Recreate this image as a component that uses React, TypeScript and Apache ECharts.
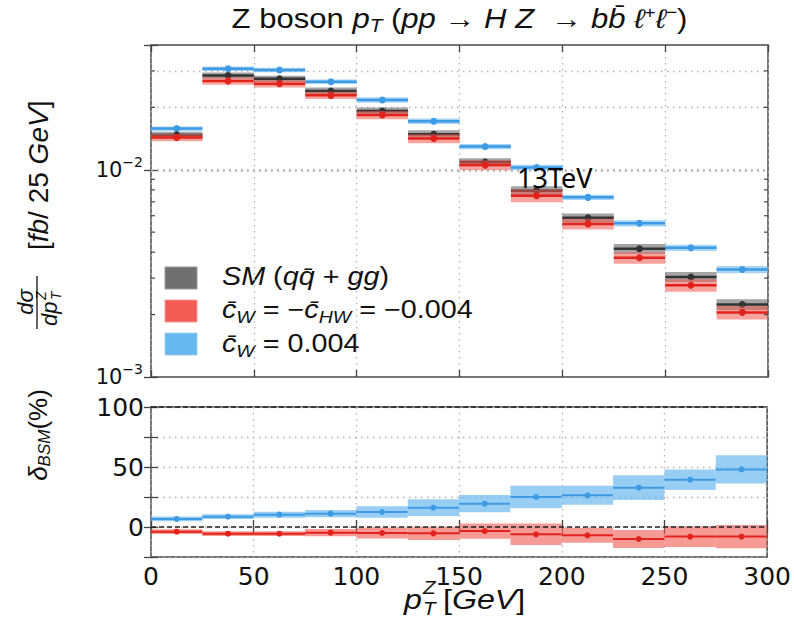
import { useEffect, useRef } from "react";
import * as echarts from "echarts";

// ---- data ----
const binEdges = [0, 25, 50, 75, 100, 125, 150, 175, 200, 225, 250, 275, 300];
// differential cross sections [fb / 25 GeV]
const smXsec = [0.01473, 0.0285, 0.0275, 0.024, 0.01921, 0.01484, 0.01089, 0.00793, 0.00586, 0.00416, 0.00304, 0.00224];
const redXsec = [0.0143, 0.0268, 0.026, 0.02286, 0.01838, 0.01414, 0.01053, 0.0075, 0.00548, 0.00376, 0.00277, 0.00205];
const blueXsec = [0.0158, 0.0307, 0.0303, 0.02658, 0.02171, 0.01714, 0.01294, 0.01026, 0.00736, 0.00552, 0.0042, 0.0033];
// relative uncertainty bands [%]
const smXsecErr = [3.5, 3.5, 3.5, 4, 4, 4.5, 4.5, 5, 5, 5.5, 5.5, 6];
const redXsecErr = [4, 4, 4, 4, 4.5, 5, 5.5, 7, 6, 6.5, 7, 7.5];
const blueXsecErr = [2.5, 2.5, 2.5, 2.5, 3, 3, 3, 3, 3, 3.5, 3.5, 4];
// deviation from SM [%]
const blueDelta = [6.7, 8.6, 10.3, 11.1, 12.5, 16.1, 19.4, 25, 26.4, 32.8, 39.4, 48];
const blueDeltaErr = [2, 2, 2.5, 3, 4.7, 7, 7.2, 9.3, 7.9, 10.4, 8.6, 11.8];
const redDelta = [-3.9, -5.6, -5.6, -4.7, -5, -5.3, -3.4, -6.1, -6.9, -10, -8, -8];
const redDeltaErr = [2, 2, 2, 3, 4.6, 5.6, 6.4, 9, 6.25, 7.6, 8.6, 9.7];
// log axis minor grid values
const logMinorValues = [0.002, 0.003, 0.004, 0.005, 0.006, 0.007, 0.008, 0.009, 0.02, 0.03];
const logMajorValues = [0.01];

const FONT = "Liberation Sans";
const TICKFONT = "DejaVu Sans";
const SX = 1.15;

function relBins(vals: number[], errPct: number[]) {
  return vals.map((v, i) => [binEdges[i], binEdges[i + 1], v, v * (1 - errPct[i] / 100), v * (1 + errPct[i] / 100)]);
}
function absBins(vals: number[], err: number[]) {
  return vals.map((v, i) => [binEdges[i], binEdges[i + 1], v, v - err[i], v + err[i]]);
}

function binRenderer(lineColor: string, bandColor: string, r: number, lw: number) {
  return (_params: any, api: any) => {
    const x0 = api.value(0), x1 = api.value(1), y = api.value(2), lo = api.value(3), hi = api.value(4);
    const a = api.coord([x0, hi]);
    const b = api.coord([x1, lo]);
    const c = api.coord([(x0 + x1) / 2, y]);
    return {
      type: "group",
      children: [
        { type: "rect", shape: { x: a[0], y: a[1], width: b[0] - a[0], height: b[1] - a[1] }, style: { fill: bandColor } },
        { type: "line", shape: { x1: a[0], y1: c[1], x2: b[0], y2: c[1] }, style: { stroke: lineColor, lineWidth: lw } },
        { type: "circle", shape: { cx: c[0], cy: c[1], r }, style: { fill: lineColor } },
      ],
    };
  };
}

const dotted = { type: [1.5, 4.5] as any, color: "#b0b0b0", width: 1.3 };

const richBase = {
  r: { fontFamily: FONT, fontSize: 27, fill: "#111", lineHeight: 32 },
  i: { fontFamily: FONT, fontSize: 27, fill: "#111", fontStyle: "italic", lineHeight: 32 },
  sub: { fontFamily: FONT, fontSize: 18, fill: "#111", fontStyle: "italic", lineHeight: 8, verticalAlign: "bottom" },
  sup: { fontFamily: FONT, fontSize: 17, fill: "#111", lineHeight: 8, verticalAlign: "top" },
};
const richLegend = {
  r: { fontFamily: FONT, fontSize: 25, fill: "#111", lineHeight: 30 },
  i: { fontFamily: FONT, fontSize: 25, fill: "#111", fontStyle: "italic", lineHeight: 30 },
  sub: { fontFamily: FONT, fontSize: 17, fill: "#111", fontStyle: "italic", lineHeight: 8, verticalAlign: "bottom" },
};

export default function App() {
  const ref = useRef<HTMLDivElement>(null);
  useEffect(() => {
    if (!ref.current) return;
    const chart = echarts.init(ref.current, null, { renderer: "svg" });

    const isPow10 = (v: number) => Math.abs(Math.log10(v) - Math.round(Math.log10(v))) < 1e-6;
    const it = (text: string, x: number, y: number, size: number, align = "left") => ({
      type: "text", x, y,
      style: { text, fontFamily: FONT, fontStyle: "italic", fontSize: size, fill: "#111", align, verticalAlign: "middle" },
    });

    const graphic: any[] = [
      // title
      {
        type: "text", x: 459.5, y: 19, scaleX: SX,
        style: {
          text: "{r|Z boson }{i|p}{sub|T}{r| (}{i|pp}{r| → }{i|H Z}{r|  → }{i|bb\u0304}{r| }{i|ℓ}{sup|+}{i|ℓ}{sup|−}{r|)}",
          rich: richBase, align: "center", verticalAlign: "middle",
        },
      },
      // legend
      { type: "rect", shape: { x: 165, y: 267, width: 32, height: 22 }, style: { fill: "#707070", stroke: "#9a9a9a", lineWidth: 1 } },
      { type: "rect", shape: { x: 165, y: 300, width: 32, height: 22 }, style: { fill: "#f25c54", stroke: "#f59a94", lineWidth: 1 } },
      { type: "rect", shape: { x: 165, y: 333, width: 32, height: 22 }, style: { fill: "#66b6f0", stroke: "#9ccff5", lineWidth: 1 } },
      {
        type: "text", x: 222, y: 277, scaleX: SX,
        style: { text: "{i|SM}{r| (}{i|qq\u0304}{r| + }{i|gg}{r|)}", rich: richLegend, align: "left", verticalAlign: "middle" },
      },
      {
        type: "text", x: 222, y: 310, scaleX: SX,
        style: { text: "{i|c\u0304}{sub|W}{r| = −}{i|c\u0304}{sub|HW}{r| = −0.004}", rich: richLegend, align: "left", verticalAlign: "middle" },
      },
      {
        type: "text", x: 222, y: 344, scaleX: SX,
        style: { text: "{i|c\u0304}{sub|W}{r| = 0.004}", rich: richLegend, align: "left", verticalAlign: "middle" },
      },
      // 13TeV
      {
        type: "text", x: 517, y: 177,
        style: { text: "13TeV", fontFamily: "Noto Sans", fontSize: 27, fill: "#000", align: "left", verticalAlign: "middle" },
        z: 20,
      },
      // top y-axis label (rotated)
      {
        type: "group", x: 38, y: 212, rotation: Math.PI / 2,
        children: [
          it("dσ", -90, -13, 22, "center"),
          { type: "line", shape: { x1: -117, y1: -1, x2: -64, y2: -1 }, style: { stroke: "#111", lineWidth: 1.3 } },
          it("dp", -114, 11, 22),
          it("Z", -88, 3, 14),
          it("T", -88, 18, 14),
          {
            type: "text", x: -38, y: 0,
            style: {
              text: "{r|[}{i|fb}{r|/ 25 }{i|GeV}{r|]}",
              rich: {
                r: { fontFamily: FONT, fontSize: 28, fill: "#111" },
                i: { fontFamily: FONT, fontSize: 28, fill: "#111", fontStyle: "italic" },
              },
              align: "left", verticalAlign: "middle",
            },
          },
        ],
      },
      // bottom y-axis label
      {
        type: "group", x: 38, y: 435, rotation: Math.PI / 2,
        children: [
          {
            type: "text", x: 0, y: 0,
            style: {
              text: "{i|δ}{sub|BSM}{r|(%)}",
              rich: {
                r: { fontFamily: FONT, fontSize: 26, fill: "#111", lineHeight: 30 },
                i: { fontFamily: FONT, fontSize: 26, fill: "#111", fontStyle: "italic", lineHeight: 30 },
                sub: { fontFamily: FONT, fontSize: 17, fill: "#111", fontStyle: "italic", lineHeight: 8, verticalAlign: "bottom" },
              },
              align: "center", verticalAlign: "middle",
            },
          },
        ],
      },
      // x-axis label
      { ...it("p", 404, 599, 28), scaleX: SX },
      { ...it("Z", 423, 588, 18), scaleX: SX },
      { ...it("T", 423, 609, 18), scaleX: SX },
      {
        type: "text", x: 443, y: 599, scaleX: SX,
        style: {
          text: "{r|[}{i|GeV}{r|]}",
          rich: {
            r: { fontFamily: FONT, fontSize: 28, fill: "#111" },
            i: { fontFamily: FONT, fontSize: 28, fill: "#111", fontStyle: "italic" },
          },
          align: "left", verticalAlign: "middle",
        },
      },
    ];

    const tickStyle = { show: true, inside: true, length: 7, lineStyle: { color: "#444", width: 1.3 } };
    const xBase = { type: "value", min: 0, max: 300, interval: 50 };

    const option: any = {
      animation: false,
      backgroundColor: "#fff",
      grid: [
        { left: 151, top: 45, width: 617, height: 332, show: true, borderColor: "#4a4a4a", borderWidth: 1.5, backgroundColor: "transparent" },
        { left: 151, top: 407, width: 617, height: 150, show: true, borderColor: "#4a4a4a", borderWidth: 1.5, backgroundColor: "transparent" },
      ],
      xAxis: [
        { ...xBase, gridIndex: 0, axisLabel: { show: false }, axisTick: tickStyle, axisLine: { show: false }, splitLine: { show: true, lineStyle: dotted } },
        {
          ...xBase, gridIndex: 1, axisTick: tickStyle, axisLine: { show: false }, splitLine: { show: true, lineStyle: dotted },
          axisLabel: { show: true, fontFamily: TICKFONT, fontSize: 25, color: "#111", margin: 7 },
        },
        { ...xBase, gridIndex: 0, position: "top", axisLabel: { show: false }, axisTick: tickStyle, axisLine: { show: false }, splitLine: { show: false } },
        { ...xBase, gridIndex: 1, position: "top", axisLabel: { show: false }, axisTick: tickStyle, axisLine: { show: false }, splitLine: { show: false } },
      ],
      yAxis: [
        {
          type: "log", logBase: 10, min: 0.001, max: 0.04, gridIndex: 0,
          axisLine: { show: false }, axisTick: tickStyle, splitLine: { show: false },
          axisLabel: {
            show: true, margin: 8,
            formatter: (v: number) => (isPow10(v) ? `{b|10}{s|−${-Math.round(Math.log10(v))}}` : ""),
            rich: {
              b: { fontFamily: TICKFONT, fontSize: 21, color: "#111", lineHeight: 30 },
              s: { fontFamily: TICKFONT, fontSize: 14, color: "#111", lineHeight: 8, verticalAlign: "top" },
            },
          },
        },
        {
          type: "value", min: -25, max: 100, interval: 25, gridIndex: 1,
          axisLine: { show: false }, axisTick: tickStyle, splitLine: { show: true, lineStyle: dotted },
          axisLabel: {
            show: true, margin: 7, fontFamily: TICKFONT, fontSize: 25, color: "#111",
            formatter: (v: number) => (v % 50 === 0 ? String(v) : ""),
          },
        },
        { type: "log", logBase: 10, min: 0.001, max: 0.04, gridIndex: 0, position: "right", axisLine: { show: false }, axisTick: tickStyle, splitLine: { show: false }, axisLabel: { show: false } },
        { type: "value", min: -25, max: 100, interval: 25, gridIndex: 1, position: "right", axisLine: { show: false }, axisTick: tickStyle, splitLine: { show: false }, axisLabel: { show: false } },
      ],
      graphic,
      series: [
        {
          type: "line", xAxisIndex: 0, yAxisIndex: 0, data: [], silent: true,
          markLine: {
            silent: true, symbol: "none", z: 1, label: { show: false },
            lineStyle: dotted,
            data: [...logMinorValues, ...logMajorValues].map((v) => ({ yAxis: v })),
          },
        },
        {
          type: "custom", xAxisIndex: 0, yAxisIndex: 0, z: 4, silent: true,
          data: logMinorValues.map((v) => [0, v]),
          encode: { x: 0, y: 1 },
          renderItem: (_p: any, api: any) => {
            const a = api.coord([0, api.value(1)]);
            const b = api.coord([300, api.value(1)]);
            return {
              type: "group",
              children: [
                { type: "line", shape: { x1: a[0], y1: a[1], x2: a[0] + 4, y2: a[1] }, style: { stroke: "#444", lineWidth: 1.2 } },
                { type: "line", shape: { x1: b[0] - 4, y1: b[1], x2: b[0], y2: b[1] }, style: { stroke: "#444", lineWidth: 1.2 } },
              ],
            };
          },
        },
        {
          type: "custom", name: "blueTop", xAxisIndex: 0, yAxisIndex: 0, z: 3, silent: true,
          data: relBins(blueXsec, blueXsecErr), encode: { x: [0, 1], y: [2, 3, 4] },
          renderItem: binRenderer("#3d9be6", "rgba(110,185,240,0.6)", 3.5, 2.5),
        },
        {
          type: "custom", name: "smTop", xAxisIndex: 0, yAxisIndex: 0, z: 3, silent: true,
          data: relBins(smXsec, smXsecErr), encode: { x: [0, 1], y: [2, 3, 4] },
          renderItem: binRenderer("#333333", "rgba(90,90,90,0.55)", 3.5, 2.5),
        },
        {
          type: "custom", name: "redTop", xAxisIndex: 0, yAxisIndex: 0, z: 3, silent: true,
          data: relBins(redXsec, redXsecErr), encode: { x: [0, 1], y: [2, 3, 4] },
          renderItem: binRenderer("#e3231b", "rgba(240,90,80,0.55)", 3.5, 2.5),
        },
        {
          type: "custom", name: "blueBottom", xAxisIndex: 1, yAxisIndex: 1, z: 3, silent: true,
          data: absBins(blueDelta, blueDeltaErr), encode: { x: [0, 1], y: [2, 3, 4] },
          renderItem: binRenderer("#3d9be6", "rgba(110,185,240,0.7)", 3, 2),
        },
        {
          type: "custom", name: "redBottom", xAxisIndex: 1, yAxisIndex: 1, z: 3, silent: true,
          data: absBins(redDelta, redDeltaErr), encode: { x: [0, 1], y: [2, 3, 4] },
          renderItem: binRenderer("#e3231b", "rgba(240,100,90,0.65)", 3, 2),
        },
        {
          type: "line", xAxisIndex: 1, yAxisIndex: 1, data: [], silent: true,
          markLine: {
            silent: true, symbol: "none", z: 10, label: { show: false },
            lineStyle: { type: [5, 3], color: "#222", width: 1.5 },
            data: [{ yAxis: 0 }, { yAxis: 100 }],
          },
        },
      ],
    };

    chart.setOption(option);
    return () => chart.dispose();
  }, []);

  return <div ref={ref} style={{ position: "absolute", left: 0, top: 0, width: 794, height: 635 }} />;
}
